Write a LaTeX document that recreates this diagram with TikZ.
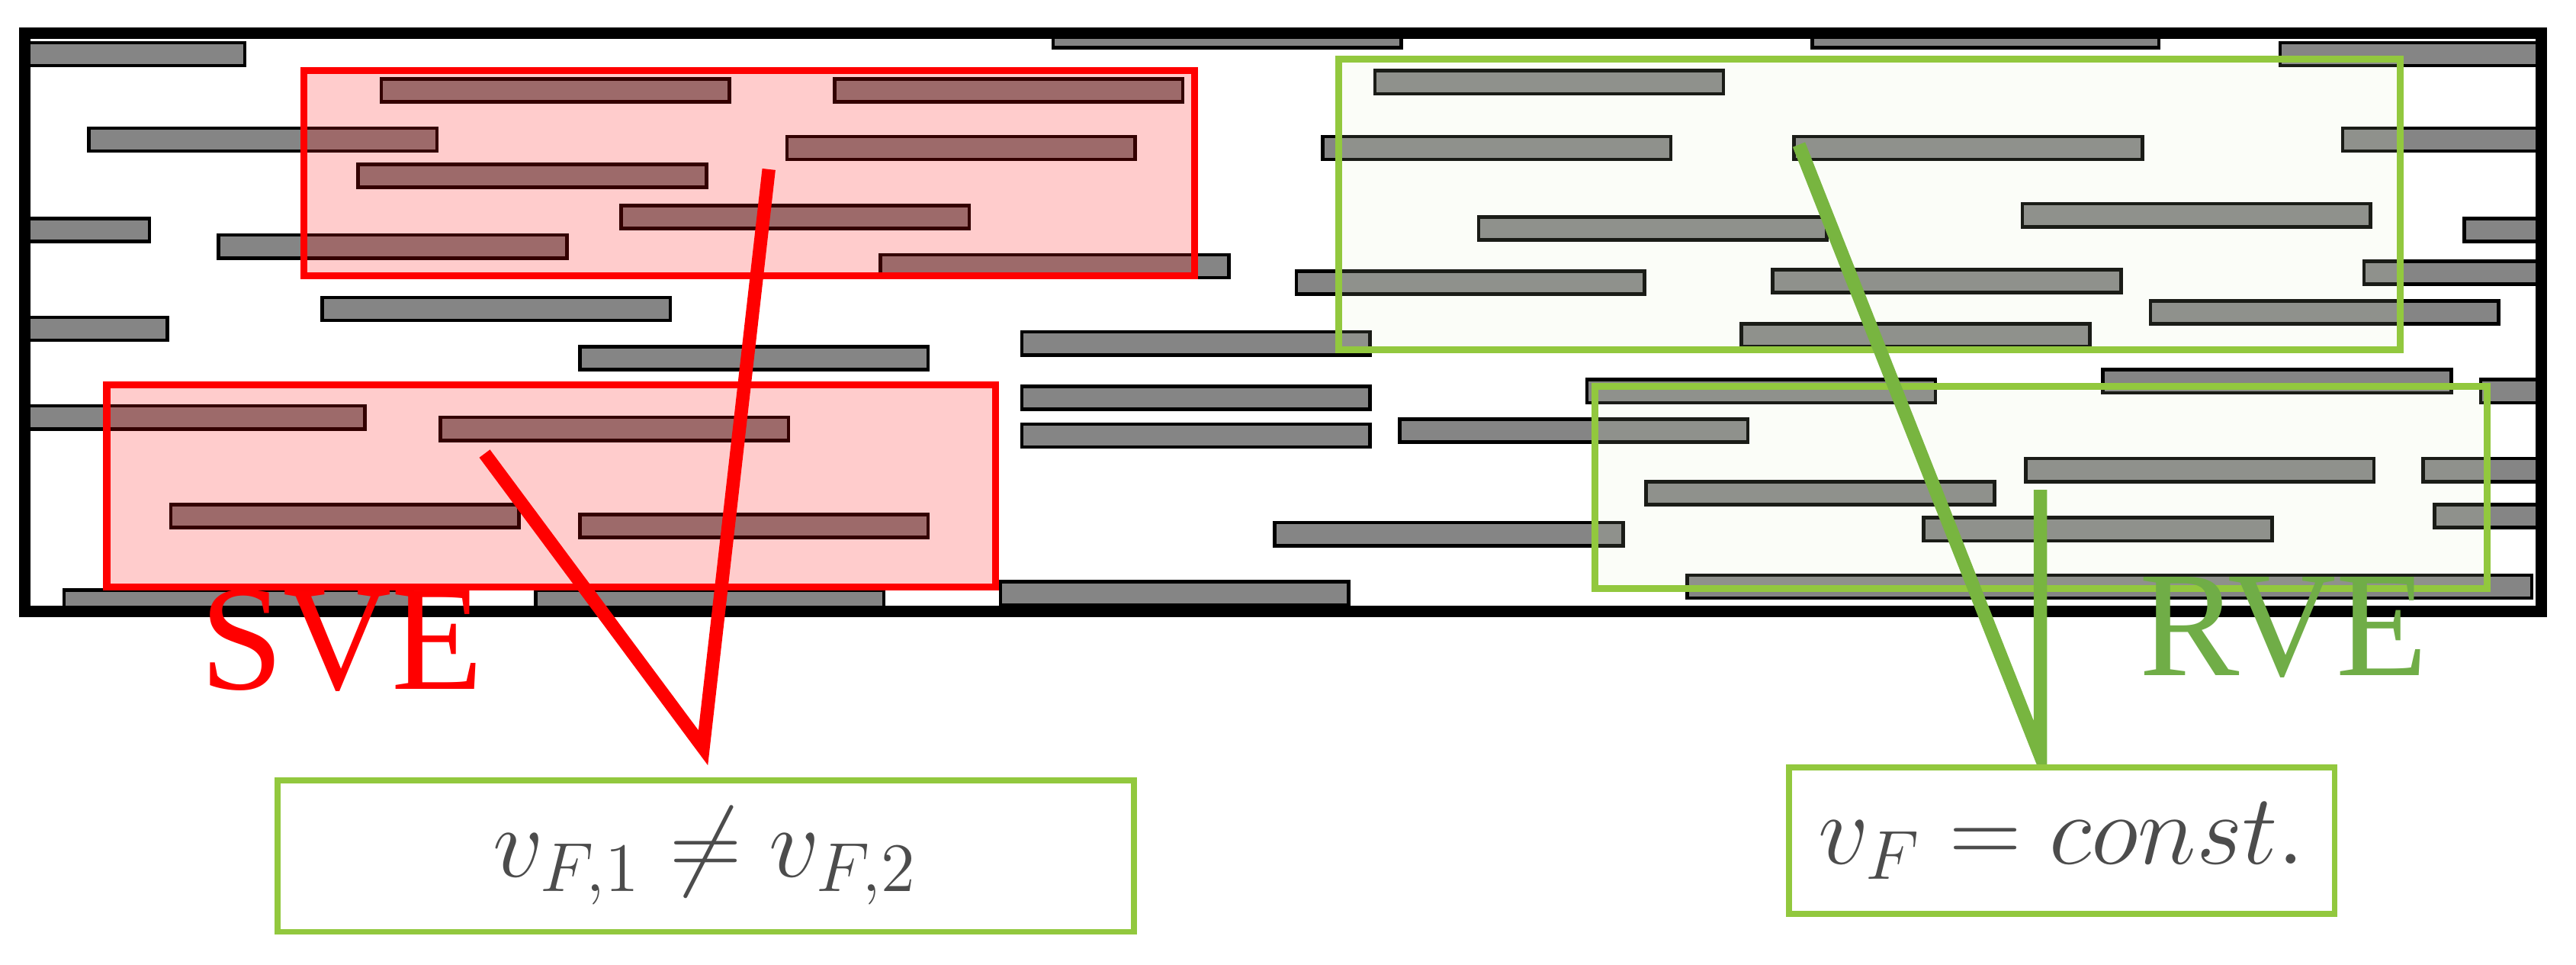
\documentclass[tikz,border=0pt]{standalone}
\usepackage{fontspec}
\setmainfont{Liberation Serif}
\begin{document}
\begin{tikzpicture}[x=0.01cm,y=-0.01cm,
  fbar/.style={fill=black!48,draw=black,line width=0.6pt},
  svebox/.style={draw=red,line width=1.2pt,fill=red,fill opacity=0.2}]
\useasboundingbox (0,0) rectangle (1568,587);
\definecolor{rvegreen}{HTML}{70AD47}
\definecolor{boxgreen}{HTML}{92C83E}
\tikzset{rvebox/.style={draw=boxgreen,line width=1.2pt,fill=boxgreen!30,fill opacity=0.12},
  lbl/.style={draw=boxgreen,line width=1pt,fill=white,text=black!70}}
\begin{scope}
\clip (15,20) rectangle (1547,372);
\foreach \a/\b/\c in {15/149/33,232/444/55,508/720/55,641/853/22,1103/1314/22,1388/1547/33,837/1049/50,
 54/266/85,479/691/90,805/1017/90,1092/1304/90,1426/1547/85,218/430/107,15/91/140,378/590/132,900/1112/139,
 1231/1443/131,1500/1547/140,133/345/150,536/748/162,789/1001/172,1079/1291/171,1439/1547/166,196/408/188,
 1309/1521/190,15/102/200,1060/1272/204,353/565/218,622/834/209,1280/1492/232,622/834/242,966/1178/238,
 1510/1547/238,15/222/254,268/480/261,622/834/265,852/1064/262,1233/1445/286,1475/1547/286,1002/1214/300,
 104/316/314,1482/1547/314,353/565/320,776/988/325,1171/1383/322,609/821/361,1027/1239/357,39/251/366,
 326/538/366,1240/1541/357}
 \path[fbar] (\a,\c-7) rectangle (\b,\c+7);
\end{scope}
\draw[line width=2pt] (15,20) rectangle (1547,372);
\path[svebox] (185,43) rectangle (727,168);
\path[svebox] (65,234) rectangle (606,357);
\path[rvebox] (815,36) rectangle (1461,213);
\path[rvebox] (971,235) rectangle (1514,358);
\coordinate (s1) at (468,103); \coordinate (s2) at (428,455); \coordinate (s3) at (295,276);
\coordinate (r1) at (1095,88); \coordinate (r2) at (1242,460); \coordinate (r3) at (1242,298);
\draw[red,line width=2.3pt] (s1) -- (s2) -- (s3);
\draw[rvegreen!90!lime,line width=2.3pt] (r1) -- (r2) -- (r3);
\node[red,font=\fontsize{26}{28}\selectfont] (sve) at (208,390) {SVE};
\node[rvegreen,font=\fontsize{26}{28}\selectfont] (rve) at (1390,382) {RVE};
\node[lbl,font=\fontsize{18}{20}\selectfont,minimum width=5.21cm,minimum height=0.92cm] (l1) at (429.5,521) {$v_{F,1}\neq v_{F,2}$};
\node[lbl,font=\fontsize{17}{19}\selectfont,minimum width=3.32cm,minimum height=0.89cm] (l2) at (1255,511.5) {$v_F = const.$};
\end{tikzpicture}
\end{document}
